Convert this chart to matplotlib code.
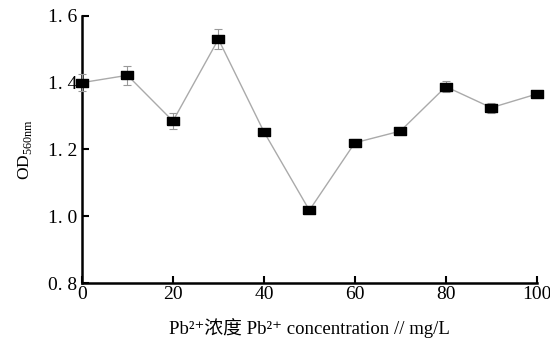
import matplotlib.pyplot as plt

plt.rcParams['font.family'] = ['Liberation Serif', 'Noto Sans CJK SC', 'DejaVu Serif']
plt.rcParams['mathtext.fontset'] = 'custom'
plt.rcParams['mathtext.rm'] = 'Liberation Serif'

# Pb2+ 浓度 (mg/L) 与 OD560nm
conc = [0, 10, 20, 30, 40, 50, 60, 70, 80, 90, 100]
od = [1.40, 1.422, 1.285, 1.530, 1.253, 1.018, 1.220, 1.255, 1.388, 1.325, 1.366]
err = [0.026, 0.029, 0.023, 0.030, 0.005, 0.005, 0.012, 0.005, 0.016, 0.015, 0.010]

fig = plt.figure(figsize=(5.5, 3.44), dpi=100)
ax = fig.add_axes([0.149, 0.177, 0.827, 0.777])

# 长方形的标记
rect = [(-1.5, -1), (1.5, -1), (1.5, 1), (-1.5, 1), (-1.5, -1)]
ax.errorbar(conc, od, yerr=err, color='#aaaaaa', linewidth=1.0,
            ecolor='#999999', elinewidth=0.8, capsize=3, capthick=0.8,
            marker=rect, markersize=8, markerfacecolor='black',
            markeredgecolor='black', clip_on=False, zorder=3)

ax.set_xlim(0, 100)
ax.set_ylim(0.8, 1.6)
ax.set_xticks(range(0, 101, 20))
ax.set_yticks([0.8, 1.0, 1.2, 1.4, 1.6])
ax.set_yticklabels(['0. 8', '1. 0', '1. 2', '1. 4', '1. 6'])

for s in ['top', 'right']:
    ax.spines[s].set_visible(False)
for s in ['left', 'bottom']:
    ax.spines[s].set_linewidth(1.8)

ax.tick_params(direction='in', length=5, width=1.5, labelsize=14)
ax.tick_params(axis='x', pad=2)

ax.set_xlabel('Pb²⁺浓度 Pb²⁺ concentration // mg/L', fontsize=13.5, labelpad=11)
ax.set_ylabel(r'OD$_{\mathrm{560nm}}$', fontsize=12.5, labelpad=10)

plt.savefig('out.png', dpi=100)
